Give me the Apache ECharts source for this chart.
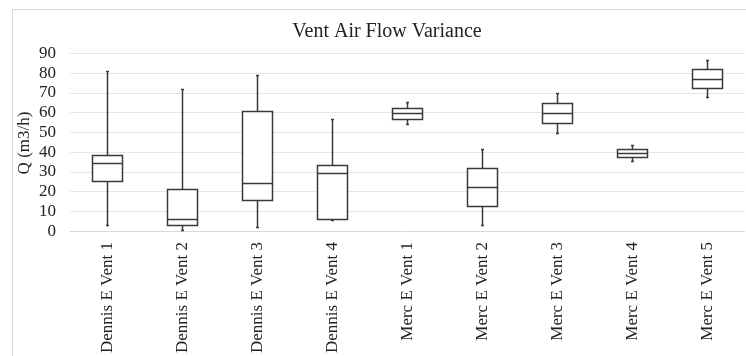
<!DOCTYPE html>
<html>
<head>
<meta charset="utf-8">
<script src="https://cdn.jsdelivr.net/npm/echarts@6/dist/echarts.min.js"></script>
<style>html,body{margin:0;padding:0;background:#fff}#c{width:746px;height:356px}</style>
</head>
<body>
<div id="c"></div>
<script>
var categories = ['Dennis E Vent 1','Dennis E Vent 2','Dennis E Vent 3','Dennis E Vent 4','Merc E Vent 1','Merc E Vent 2','Merc E Vent 3','Merc E Vent 4','Merc E Vent 5'];
var mins    = [3.0, 0.4, 2.0, 5.1, 54.0, 3.0, 49.3, 35.4, 67.7];
var q1s     = [25.3, 3.0, 15.5, 6.1, 56.6, 12.6, 54.4, 37.4, 72.2];
var medians = [34.4, 6.1, 24.2, 29.3, 59.4, 22.2, 59.4, 39.4, 77.0];
var q3s     = [38.2, 21.1, 60.6, 33.3, 62.3, 31.8, 64.5, 41.4, 81.8];
var maxs    = [80.8, 71.6, 78.8, 56.4, 65.0, 41.4, 69.7, 43.3, 86.6];
var yTicks  = [0, 10, 20, 30, 40, 50, 60, 70, 80, 90];
var yName = 'Q (m3/h)';

var FONT = "'Liberation Serif','Times New Roman',serif";
var data = categories.map(function (c, i) { return [i, mins[i], q1s[i], medians[i], q3s[i], maxs[i]]; });

var chart = echarts.init(document.getElementById('c'), null, {renderer: 'canvas'});
var LINE = '#3a3a3a';
function crisp(v) { return Math.round(v - 0.5) + 0.5; }

chart.setOption({
  animation: false,
  backgroundColor: '#fff',
  graphic: [{
    type: 'rect', shape: {x: 12.5, y: 9.5, width: 760, height: 400},
    style: {fill: 'none', stroke: '#d9d9d9', lineWidth: 1}, silent: true, z: -10
  }, {
    type: 'text', x: 25, y: 143, rotation: Math.PI / 2, silent: true,
    style: {text: yName, fontFamily: FONT, fontSize: 17, fill: '#222', align: 'center', verticalAlign: 'middle'}
  }],
  title: {
    text: 'Vent Air Flow Variance', left: 382, top: 17, textAlign: 'center',
    textStyle: {fontFamily: FONT, fontSize: 20, fontWeight: 'normal', color: '#222'}
  },
  grid: {left: 70, right: 1, top: 53.5, bottom: 124.3, containLabel: false},
  xAxis: {
    type: 'category', data: categories, boundaryGap: true,
    axisLine: {show: true, lineStyle: {color: '#d9d9d9', width: 1}},
    axisTick: {show: false},
    axisLabel: {rotate: 90, margin: 11, interval: 0, fontFamily: FONT, fontSize: 17, color: '#222'},
    splitLine: {show: false}
  },
  yAxis: {
    type: 'value', min: yTicks[0], max: yTicks[yTicks.length - 1], interval: yTicks[1] - yTicks[0],
    axisLine: {show: false}, axisTick: {show: false},
    axisLabel: {margin: 14, fontFamily: FONT, fontSize: 17, color: '#222'},
    splitLine: {show: true, lineStyle: {color: '#e6e6e6', width: 1}}
  },
  series: [{
    type: 'custom',
    data: data,
    encode: {x: 0, y: [1, 2, 3, 4, 5]},
    renderItem: function (params, api) {
      var idx = api.value(0);
      var pMin = api.coord([idx, api.value(1)]);
      var pQ1 = api.coord([idx, api.value(2)]);
      var pMed = api.coord([idx, api.value(3)]);
      var pQ3 = api.coord([idx, api.value(4)]);
      var pMax = api.coord([idx, api.value(5)]);
      var bw = api.size([1, 0])[0] * 0.4;
      var cx = crisp(pMed[0]);
      var x0 = crisp(cx - bw / 2), x1 = crisp(cx + bw / 2);
      var st = {stroke: LINE, lineWidth: 1.5, fill: 'none'};
      var cap = 1.5;
      return {
        type: 'group',
        children: [
          {type: 'line', shape: {x1: cx, y1: pQ3[1], x2: cx, y2: pMax[1]}, style: st},
          {type: 'line', shape: {x1: cx, y1: pQ1[1], x2: cx, y2: pMin[1]}, style: st},
          {type: 'line', shape: {x1: cx - cap, y1: crisp(pMax[1]), x2: cx + cap, y2: crisp(pMax[1])}, style: st},
          {type: 'line', shape: {x1: cx - cap, y1: crisp(pMin[1]), x2: cx + cap, y2: crisp(pMin[1])}, style: st},
          {type: 'rect', shape: {x: x0, y: crisp(pQ3[1]), width: x1 - x0, height: crisp(pQ1[1]) - crisp(pQ3[1])},
            style: {stroke: LINE, lineWidth: 1.5, fill: '#fff'}},
          {type: 'line', shape: {x1: x0, y1: crisp(pMed[1]), x2: x1, y2: crisp(pMed[1])}, style: st}
        ]
      };
    }
  }]
});
</script>
</body>
</html>
